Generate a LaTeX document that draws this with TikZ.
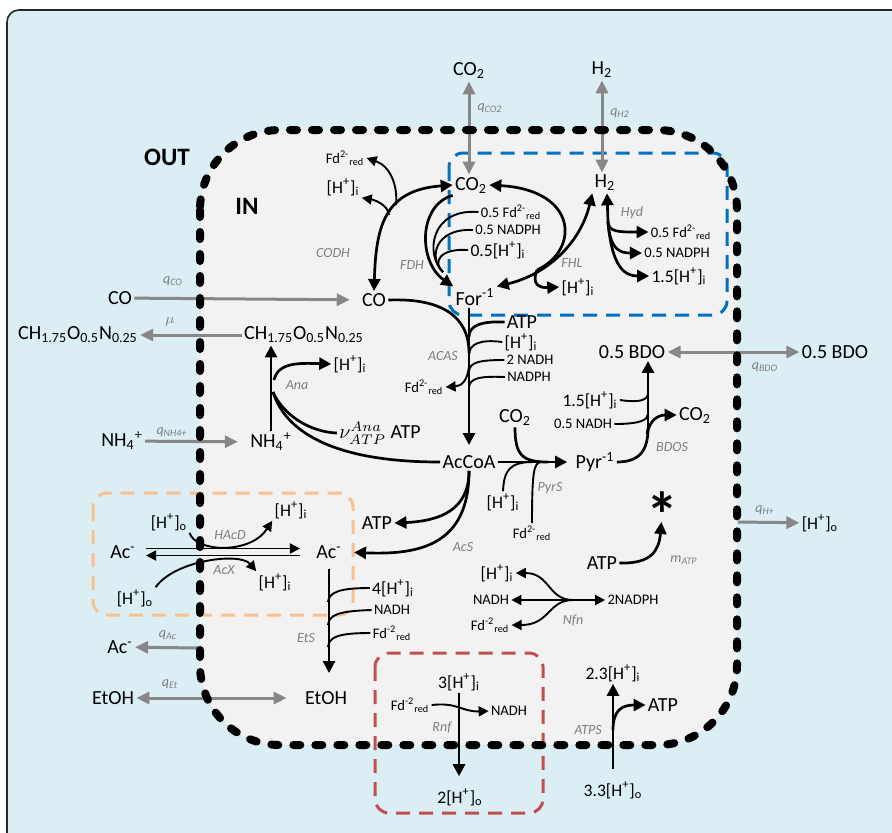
\documentclass[tikz,border=0pt]{standalone}
\usepackage{fontspec}
\setmainfont{Carlito}
\usetikzlibrary{arrows.meta}

\definecolor{OutBlue}{HTML}{DAEEF3}
\definecolor{CellGray}{HTML}{F2F2F2}
\definecolor{FrameGray}{HTML}{262626}
\definecolor{ArrowGray}{HTML}{878787}
\definecolor{LabGray}{HTML}{7F7F7F}
\definecolor{BoxBlue}{HTML}{0070C0}
\definecolor{BoxOrange}{HTML}{FAC090}
\definecolor{BoxRed}{HTML}{C0504D}

\newcommand{\Hi}{[H\textsuperscript{+}]\textsubscript{i}}
\newcommand{\Ho}{[H\textsuperscript{+}]\textsubscript{o}}
\newcommand{\Fdred}{Fd\textsuperscript{2-}\textsubscript{red}}
\newcommand{\Fdredb}{Fd\textsuperscript{-2}\textsubscript{red}}
\newcommand{\COtwo}{CO\textsubscript{2}}
\newcommand{\Htwo}{H\textsubscript{2}}
\newcommand{\Biomass}{CH\textsubscript{1.75}O\textsubscript{0.5}N\textsubscript{0.25}}
\newcommand{\NHfour}{NH\textsubscript{4}\textsuperscript{+}}
\newcommand{\qflux}[1]{\textit{q\textsubscript{#1}}}

\begin{document}
\begin{tikzpicture}[x=0.5pt,y=-0.5pt]
      \tikzset{
        MetStyle/.style = {font=\fontsize{10}{12}\selectfont, inner sep=1pt},
        MidStyle/.style = {font=\fontsize{8.8}{10}\selectfont, inner sep=1pt},
        SmallStyle/.style = {font=\fontsize{7.3}{9}\selectfont, inner sep=1pt},
        EnzStyle/.style = {font=\fontsize{7}{8}\selectfont\itshape, text=LabGray, inner sep=1pt},
        LabelStyle/.style = {font=\fontsize{12.5}{14}\selectfont\bfseries, inner sep=1pt},
        StarStyle/.style = {font=\fontsize{32}{32}\selectfont\bfseries, inner sep=0pt},
        EdgeStyle/.style = {line width=1.35pt, >={Triangle[length=6pt,width=6pt]}},
        BranchStyle/.style = {line width=0.95pt, >={Triangle[length=5pt,width=5pt]}},
        FluxStyle/.style = {draw=ArrowGray, line width=1.5pt, >={Triangle[length=6.5pt,width=6pt]}},
        CellEdge/.style = {line width=4pt, dash pattern=on 3.5pt off 7.5pt, line cap=round},
        BoxStyle/.style = {line width=1.5pt, dash pattern=on 7pt off 4.5pt, rounded corners=7pt}
      }
      \useasboundingbox (0,0) rectangle (892,832);

      % Background
      \draw[draw=FrameGray, line width=0.8pt, fill=OutBlue, rounded corners=6pt] (7,10) rectangle (910,850);
      \fill[CellGray, rounded corners=40pt] (200,130) rectangle (737,745);
      \draw[BoxStyle, draw=BoxBlue] (449,153) rectangle (727,315);
      \draw[BoxStyle, draw=BoxOrange] (93,493) rectangle (353,615);
      \draw[BoxStyle, draw=BoxRed] (375,653) rectangle (543,813);

      % Vertices (outside)
      \node[MetStyle] (co2o) at (469,71) {\COtwo};
      \node[MetStyle] (h2o) at (602,70) {\Htwo};
      \node[LabelStyle] (lblOut) at (167,157) {OUT};
      \node[MetStyle] (coo) at (120,298) {CO};
      \node[MetStyle] (bmo) at (78,335) {\Biomass};
      \node[MetStyle] (nh4o) at (122,441) {\NHfour};
      \node[MetStyle] (aco1) at (123,552) {Ac\textsuperscript{-}};
      \node[MidStyle] (hoA) at (169,522) {\Ho};
      \node[MidStyle] (hoB) at (135,598) {\Ho};
      \node[MetStyle] (aco2) at (120,647) {Ac\textsuperscript{-}};
      \node[MetStyle] (etoho) at (113,698) {EtOH};
      \node[MetStyle] (bdoo) at (835,352) {0.5 BDO};
      \node[MidStyle] (hpo) at (820,523) {\Ho};
      \node[MidStyle] (hoR) at (460,797) {2\Ho};
      \node[MidStyle] (hoT) at (613,790) {3.3\Ho};

      % Vertices (inside)
      \node[LabelStyle] (lblIn) at (247,206) {IN};
      \node[MetStyle] (co2) at (471,185) {\COtwo};
      \node[MetStyle] (h2) at (605,183) {\Htwo};
      \node[SmallStyle] (fdC) at (345,158) {\Fdred};
      \node[MidStyle] (hC) at (343,187) {\Hi};
      \node[MetStyle] (co) at (374,300) {CO};
      \node[MetStyle] (form) at (475,297) {For\textsuperscript{-1}};
      \node[SmallStyle] (fdF) at (511,212) {0.5 \Fdred};
      \node[SmallStyle] (nadphF) at (508,230) {0.5 NADPH};
      \node[MidStyle] (hF) at (498,250) {0.5\Hi};
      \node[MidStyle] (hL) at (578,287) {\Hi};
      \node[SmallStyle] (fdH) at (681,232) {0.5 \Fdred};
      \node[SmallStyle] (nadphH) at (677,253) {0.5 NADPH};
      \node[MidStyle] (hH) at (679,276) {1.5\Hi};
      \node[MetStyle] (bm) at (304,335) {\Biomass};
      \node[MidStyle] (hA) at (350,364) {\Hi};
      \node[MetStyle] (atpA) at (380,433) {$\nu^{Ana}_{ATP}$ ATP};
      \node[MetStyle] (nh4) at (271,442) {\NHfour};
      \node[MetStyle] (atpC) at (522,322) {ATP};
      \node[MidStyle] (hAC) at (521,342) {\Hi};
      \node[SmallStyle] (nadhAC) at (530,360) {2 NADH};
      \node[SmallStyle] (nadphAC) at (529,377) {NADPH};
      \node[SmallStyle] (fdAC) at (424,387) {\Fdred};
      \node[MetStyle] (accoa) at (469,462) {AcCoA};
      \node[MetStyle] (co2P) at (515,417) {\COtwo};
      \node[MidStyle] (hP) at (503,502) {\Hi};
      \node[SmallStyle] (fdP) at (532,533) {\Fdred};
      \node[MetStyle] (pyr) at (595,462) {Pyr\textsuperscript{-1}};
      \node[MetStyle] (bdo) at (632,352) {0.5 BDO};
      \node[MidStyle] (hB) at (590,400) {1.5\Hi};
      \node[SmallStyle] (nadhB) at (583,424) {0.5 NADH};
      \node[MetStyle] (co2B) at (695,415) {\COtwo};
      \node[StarStyle] (star) at (662,515) {*};
      \node[MetStyle] (atpM) at (602,563) {ATP};
      \node[MetStyle] (atpS) at (377,523) {ATP};
      \node[MetStyle] (ac) at (329,552) {Ac\textsuperscript{-}};
      \node[MidStyle] (hiA) at (291,510) {\Hi};
      \node[MidStyle] (hiB) at (275,582) {\Hi};
      \node[MidStyle] (hE) at (393,588) {4\Hi};
      \node[SmallStyle] (nadhE) at (392,610) {NADH};
      \node[SmallStyle] (fdE) at (392,633) {\Fdredb};
      \node[MetStyle] (etoh) at (326,698) {EtOH};
      \node[MidStyle] (hN) at (497,573) {\Hi};
      \node[SmallStyle] (nadhN) at (491,600) {NADH};
      \node[SmallStyle] (fdN) at (490,625) {\Fdredb};
      \node[SmallStyle] (nadphN) at (633,600) {2NADPH};
      \node[MidStyle] (hR) at (459,682) {3\Hi};
      \node[SmallStyle] (fdR) at (410,705) {\Fdredb};
      \node[SmallStyle] (nadhR) at (509,711) {NADH};
      \node[MidStyle] (hT) at (613,673) {2.3\Hi};
      \node[MetStyle] (atpT) at (663,705) {ATP};

      % Enzymes and fluxes
      \node[EnzStyle] (eCODH) at (333,253) {CODH};
      \node[EnzStyle] (eFDH) at (412,265) {FDH};
      \node[EnzStyle] (eFHL) at (572,263) {FHL};
      \node[EnzStyle] (eHyd) at (632,213) {Hyd};
      \node[EnzStyle] (eACAS) at (443,356) {ACAS};
      \node[EnzStyle] (eAna) at (297,385) {Ana};
      \node[EnzStyle] (ePyrS) at (550,488) {PyrS};
      \node[EnzStyle] (eBDOS) at (672,447) {BDOS};
      \node[EnzStyle] (eAcS) at (463,547) {AcS};
      \node[EnzStyle] (eHAcD) at (230,535) {HAcD};
      \node[EnzStyle] (eAcX) at (224,570) {AcX};
      \node[EnzStyle] (eEtS) at (306,638) {EtS};
      \node[EnzStyle] (eNfn) at (573,620) {Nfn};
      \node[EnzStyle] (eRnf) at (442,727) {Rnf};
      \node[EnzStyle] (eATPS) at (588,730) {ATPS};
      \node[EnzStyle] (eMATP) at (684,560) {\textit{m\textsubscript{ATP}}};
      \node[EnzStyle] (qCO2) at (490,108) {\qflux{CO2}};
      \node[EnzStyle] (qH2) at (620,113) {\qflux{H2}};
      \node[EnzStyle] (qCO) at (173,281) {\qflux{CO}};
      \node[EnzStyle] (qMu) at (170,322) {$\mu$};
      \node[EnzStyle] (qNH4) at (172,432) {\qflux{NH4+}};
      \node[EnzStyle] (qBDO) at (765,367) {\qflux{BDO}};
      \node[EnzStyle] (qHp) at (765,510) {\qflux{H+}};
      \node[EnzStyle] (qAc) at (168,635) {\qflux{Ac}};
      \node[EnzStyle] (qEt) at (170,684) {\qflux{Et}};

      % Junctions
      \coordinate (jC1) at (396,205);
      \coordinate (jC2) at (389,215);
      \coordinate (jF) at (443,272);
      \coordinate (jL) at (537,270);
      \coordinate (jH) at (608,222);
      \coordinate (jA1) at (469,337);
      \coordinate (jA2) at (469,355);
      \coordinate (jA3) at (469,372);
      \coordinate (jA4) at (469,388);
      \coordinate (jA5) at (469,353);
      \coordinate (jA6) at (469,365);
      \coordinate (jAna1) at (273,392);
      \coordinate (jAna2) at (274,380);
      \coordinate (jP1) at (548,462);
      \coordinate (jP2) at (533,462);
      \coordinate (jP3) at (541,462);
      \coordinate (jB0) at (648,428);
      \coordinate (jB1) at (647,434);
      \coordinate (jB2) at (648,393);
      \coordinate (jB3) at (648,414);
      \coordinate (jE1) at (328,602);
      \coordinate (jE2) at (328,625);
      \coordinate (jE3) at (328,647);
      \coordinate (jNfn) at (573,600);
      \coordinate (jT) at (613,730);
      \coordinate (acm) at (200,648);
      \coordinate (hpm) at (738,522);

      % Edges (exchange)
      \draw[FluxStyle,<->] (co2o) -- (co2o |- co2.north);
      \draw[FluxStyle,<->] (h2o) -- (h2o |- h2.north);
      \draw[FluxStyle,->, shorten >=5pt] (coo) -- (co);
      \draw[FluxStyle,->] (bm) -- (bmo);
      \draw[FluxStyle,->, shorten >=5pt] (nh4o) -- (nh4);
      \draw[FluxStyle,->] (acm) -- (aco2);
      \draw[FluxStyle,<->, shorten >=8pt] (etoho) -- (etoh);
      \draw[FluxStyle,<->] (bdo) -- (bdoo);
      \draw[FluxStyle,->] (hpm) -- (hpo);

      % Edges (CODH, FDH, FHL, Hyd)
      \draw[EdgeStyle,<->] (co.north) .. controls (376,225) and (385,190) .. (co2.west);
      \draw[BranchStyle,->] (jC1) .. controls (398,185) and (390,166) .. (fdC.east);
      \draw[BranchStyle,->] (jC2) .. controls (388,205) and (375,200) .. (hC.south east);
      \draw[EdgeStyle,->] (co2.south west) .. controls (418,205) and (418,262) .. (form.north west);
      \draw[BranchStyle] (fdF.west) .. controls (430,208) and (425,255) .. (jF);
      \draw[BranchStyle] (nadphF.west) .. controls (435,228) and (428,258) .. (jF);
      \draw[BranchStyle] (hF.west) .. controls (440,248) and (432,262) .. (jF);
      \draw[EdgeStyle,<->] (form.north east) .. controls (545,275) and (580,245) .. (h2.south west);
      \draw[EdgeStyle,->] (jL) .. controls (580,250) and (578,190) .. (co2.east);
      \draw[EdgeStyle,->] (jL) .. controls (531,285) and (540,288) .. (hL.west);
      \draw[EdgeStyle,->] (jH) -- ([xshift=1pt]h2.south);
      \draw[EdgeStyle,->] (jH) .. controls (609,232) and (618,232) .. (fdH.west);
      \draw[EdgeStyle,->] (jH) .. controls (610,250) and (620,253) .. (nadphH.west);
      \draw[EdgeStyle,->] (jH) .. controls (612,268) and (625,276) .. (hH.west);

      % Edges (ACAS, Ana)
      \draw[EdgeStyle,->, shorten >=4pt] (form.south -| accoa) -- (accoa.north);
      \draw[EdgeStyle] (atpC.west) .. controls (480,321) and (469,326) .. (jA1);
      \draw[BranchStyle] (hAC.west) .. controls (480,339) and (469,344) .. (jA2);
      \draw[BranchStyle] (nadhAC.west) .. controls (480,360) and (469,362) .. (jA3);
      \draw[BranchStyle] (nadphAC.west) .. controls (480,376) and (469,378) .. (jA4);
      \draw[EdgeStyle] (co.east) .. controls (440,298) and (469,315) .. (jA5);
      \draw[BranchStyle,->] (jA6) .. controls (468,380) and (462,386) .. (fdAC.east);
      \draw[EdgeStyle,->] (nh4.north) -- (nh4.north |- bm.south);
      \draw[EdgeStyle] (accoa.west) .. controls (330,462) and (285,430) .. (jAna1);
      \draw[EdgeStyle] (atpA.west) .. controls (310,432) and (283,415) .. (jAna1);
      \draw[EdgeStyle,->] (jAna2) .. controls (278,362) and (300,363) .. (hA.west);

      % Edges (PyrS, BDOS, maintenance)
      \draw[EdgeStyle,->, shorten >=3pt] (accoa.east) -- (pyr.west);
      \draw[EdgeStyle] (co2P.south) .. controls (515,455) and (522,462) .. (jP1);
      \draw[BranchStyle] (hP.north) .. controls (504,470) and (510,462) .. (jP2);
      \draw[BranchStyle] (fdP.north) .. controls (532,470) and (534,463) .. (jP3);
      \draw[EdgeStyle] (pyr.east) .. controls (640,462) and (648,450) .. (jB0);
      \draw[EdgeStyle,->] (jB0) -- (jB0 |- bdo.south);
      \draw[EdgeStyle,->] (jB1) .. controls (650,418) and (660,415) .. (co2B.west);
      \draw[BranchStyle] (hB.east) .. controls (640,403) and (648,400) .. (jB2);
      \draw[BranchStyle] (nadhB.east) .. controls (640,424) and (648,420) .. (jB3);
      \draw[EdgeStyle,->, shorten >=3.5pt] (atpM.east) .. controls (652,564) and (659,550) .. (star.center);

      % Edges (AcS, acetate, EtS)
      \draw[EdgeStyle,->] (accoa.south) .. controls (469,510) and (440,521) .. (atpS.east);
      \draw[EdgeStyle,->, shorten >=5pt] (accoa.south) .. controls (469,545) and (420,555) .. (ac.east);
      \draw[BranchStyle,->, shorten <=4pt, shorten >=7pt] ([yshift=1.75pt]aco1.east) -- ([yshift=1.75pt]ac.west);
      \draw[BranchStyle,->, shorten <=7pt, shorten >=4pt] ([yshift=-1.75pt]ac.west) -- ([yshift=-1.75pt]aco1.east);
      \draw[BranchStyle,->] (hoA.south east) .. controls (195,552) and (250,555) .. (hiA.south west);
      \draw[BranchStyle,->] (hoB.north east) .. controls (175,560) and (240,552) .. (hiB.north west);
      \draw[EdgeStyle,->, shorten <=4pt, shorten >=8pt] (ac.south) -- (ac.south |- etoh.north);
      \draw[BranchStyle] (hE.west) .. controls (340,588) and (329,592) .. (jE1);
      \draw[BranchStyle] (nadhE.west) .. controls (338,611) and (329,615) .. (jE2);
      \draw[BranchStyle] (fdE.west) .. controls (338,633) and (329,637) .. (jE3);

      % Edges (Nfn, Rnf, ATPS)
      \draw[BranchStyle,->] (jNfn) -- (nadphN.west);
      \draw[BranchStyle,->] (jNfn) -- (nadhN.east);
      \draw[BranchStyle,->] (jNfn) .. controls (548,600) and (550,573) .. (hN.east);
      \draw[BranchStyle,->] (jNfn) .. controls (548,600) and (550,625) .. (fdN.east);
      \draw[EdgeStyle,->, shorten >=5pt] (hR.south) -- (hR.south |- hoR.north);
      \draw[BranchStyle,->] (fdR.east) .. controls (458,702) and (462,712) .. (nadhR.west);
      \draw[EdgeStyle,->, shorten <=5pt] (hoT.north) -- (hoT.north |- hT.south);
      \draw[EdgeStyle,->] (jT) .. controls (613,710) and (622,705) .. (atpT.west);

      % Membrane
      \draw[CellEdge, rounded corners=40pt] (200,130) rectangle (737,745);
    \end{tikzpicture}
\end{document}
